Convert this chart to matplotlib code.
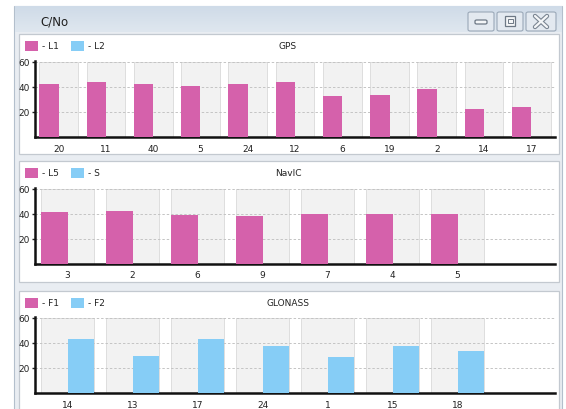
import matplotlib
matplotlib.use("Agg")
import matplotlib.pyplot as plt
from matplotlib.patches import Rectangle, FancyBboxPatch
from matplotlib.lines import Line2D
import numpy as np

# ---------------- data ----------------
gps_prn = ["20", "11", "40", "5", "24", "12", "6", "19", "2", "14", "17"]
gps_l1 = [41.8, 43.7, 42.4, 40.3, 42.4, 43.7, 32.5, 33.3, 38.4, 21.9, 23.7]
gps_l2 = [0, 0, 0, 0, 0, 0, 0, 0, 0, 0, 0]

navic_prn = ["3", "2", "6", "9", "7", "4", "5"]
navic_l5 = [41.6, 42.1, 38.9, 38.1, 40.0, 40.0, 40.0]
navic_s = [0, 0, 0, 0, 0, 0, 0]

glo_prn = ["14", "13", "17", "24", "1", "15", "18"]
glo_f1 = [0, 0, 0, 0, 0, 0, 0]
glo_f2 = [42.7, 29.2, 42.7, 37.4, 29.0, 37.4, 33.4]

yticks = [20, 40, 60]
window_title = "C/No"

PINK = "#d561ab"
BLUE = "#86cdf6"
W, H = 566, 410

fig = plt.figure(figsize=(W / 100, H / 100), dpi=100)
fig.patch.set_facecolor("white")


def fx(x):
    return x / W


def fy(y):
    return 1 - y / H


def rect_px(x0, y0, x1, y1, z=-5, **kw):
    r = Rectangle((fx(x0), fy(y1)), fx(x1 - x0), (y1 - y0) / H,
                  transform=fig.transFigure, zorder=z, **kw)
    fig.add_artist(r)
    return r


# window body
rect_px(14, 7, 562, 412, z=-10, facecolor="#e9edf2", edgecolor="#b3bfcc", lw=0.8)
# title bar gradient
tb = fig.add_axes([fx(14.5), fy(33), fx(547), 26 / H])
tb.set_zorder(-8)
grad = np.linspace(0, 1, 50).reshape(-1, 1)
tb.imshow(grad, aspect="auto", cmap=matplotlib.colors.LinearSegmentedColormap.from_list(
    "g", ["#dfe7ef", "#cfdbe8"]), extent=[0, 1, 0, 1], origin="lower")
tb.set_axis_off()
fig.text(fx(40), fy(22), window_title, fontsize=8.5, va="center", ha="left",
         color="#1e1e1e", family="DejaVu Sans")

# window buttons
for (bx0, bx1) in [(468, 494), (497, 523), (526, 556)]:
    b = FancyBboxPatch((fx(bx0), fy(32)), fx(bx1 - bx0), 19 / H,
                       boxstyle="round,pad=0,rounding_size=0.004",
                       transform=fig.transFigure, facecolor="#e3e9f0",
                       edgecolor="#9aa8b8", lw=0.8, zorder=2)
    fig.add_artist(b)
# minimize glyph
fig.add_artist(FancyBboxPatch((fx(475), fy(25)), fx(12), 4 / H,
                              boxstyle="round,pad=0,rounding_size=0.003",
                              transform=fig.transFigure, facecolor="#f4f6f8",
                              edgecolor="#6d7885", lw=0.9, zorder=3))
# maximize glyph
rect_px(505, 17, 515, 27, z=3, facecolor="#f4f6f8", edgecolor="#6d7885", lw=0.9)
rect_px(507.5, 20, 512.5, 24, z=3, facecolor="none", edgecolor="#6d7885", lw=0.7)
# close glyph
for (a, b) in [((535, 17), (547, 28)), ((535, 28), (547, 17))]:
    fig.add_artist(Line2D([fx(a[0]), fx(b[0])], [fy(a[1]), fy(b[1])],
                          transform=fig.transFigure, color="#7a8592", lw=3.2,
                          solid_capstyle="round", zorder=3))
    fig.add_artist(Line2D([fx(a[0]), fx(b[0])], [fy(a[1]), fy(b[1])],
                          transform=fig.transFigure, color="#f4f6f8", lw=1.6,
                          solid_capstyle="round", zorder=4))


def panel(box, ax_px, cats, s1, s2, names, title, nslots):
    (px0, py0, px1, py1) = box
    rect_px(px0, py0, px1, py1, z=-5, facecolor="white", edgecolor="#c3c9d0", lw=0.9)
    # legend
    ly = py0 + 11.5
    rect_px(px0 + 6, ly - 5, px0 + 19, ly + 5, z=2, facecolor=PINK, edgecolor="none")
    fig.text(fx(px0 + 23), fy(ly), "- " + names[0], fontsize=6.5, va="center",
             ha="left", color="#222222")
    rect_px(px0 + 52, ly - 5, px0 + 65, ly + 5, z=2, facecolor=BLUE, edgecolor="none")
    fig.text(fx(px0 + 69), fy(ly), "- " + names[1], fontsize=6.5, va="center",
             ha="left", color="#222222")
    fig.text(fx(288), fy(ly), title, fontsize=6.5, va="center", ha="center",
             color="#222222")

    ax_x0, ax_top, ax_x1, ax_bot = ax_px
    ax = fig.add_axes([fx(ax_x0), fy(ax_bot), fx(ax_x1 - ax_x0), (ax_bot - ax_top) / H])
    ax.patch.set_alpha(0)
    n = len(cats)
    x = np.arange(n)
    bw = 0.41
    ax.bar(x, [60] * n, width=2 * bw, color="#f2f2f2", edgecolor="#dedede",
           lw=0.7, zorder=1)
    for yv in yticks:
        ax.axhline(yv, color="#c4c4c4", lw=0.7, ls=(0, (2.5, 2)), zorder=2)
    ax.bar(x - bw / 2, s1, width=bw, color=PINK, zorder=3)
    ax.bar(x + bw / 2, s2, width=bw, color=BLUE, zorder=3)
    ax.set_xlim(-0.5, nslots - 0.5)
    ax.set_ylim(0, 60.5)
    ax.set_xticks(x)
    ax.set_xticklabels(cats)
    ax.set_yticks(yticks)
    ax.tick_params(axis="x", length=0, labelsize=6.5, pad=5, colors="#222222")
    ax.tick_params(axis="y", length=2.5, width=1, labelsize=6.5, pad=1,
                   colors="#222222")
    for s in ["top", "right"]:
        ax.spines[s].set_visible(False)
    ax.spines["left"].set_linewidth(1.8)
    ax.spines["bottom"].set_linewidth(1.8)
    ax.spines["left"].set_color("#111111")
    ax.spines["bottom"].set_color("#111111")
    return ax


panel((19, 35, 559, 155), (35, 62, 555, 138), gps_prn, gps_l1, gps_l2,
      ["L1", "L2"], "GPS", 11)
panel((19, 162, 559, 283), (35, 189, 555, 264.5), navic_prn, navic_l5, navic_s,
      ["L5", "S"], "NavIC", 8)
panel((19, 292, 559, 420), (35, 318, 555, 394), glo_prn, glo_f1, glo_f2,
      ["F1", "F2"], "GLONASS", 8)

fig.savefig("out.png", dpi=100, facecolor=fig.get_facecolor())
